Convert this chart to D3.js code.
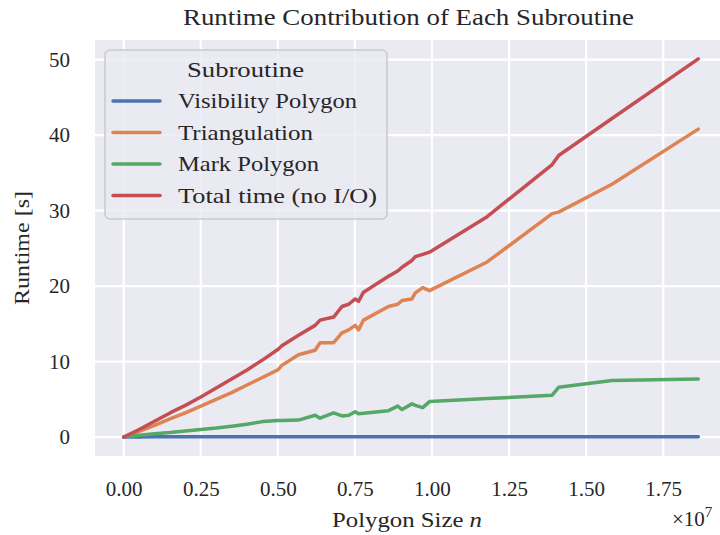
<!DOCTYPE html>
<html>
<head>
<meta charset="utf-8">
<script src="https://cdn.jsdelivr.net/npm/d3@7"></script>
<style>
  body { margin: 0; background: #fff; }
  svg text { font-family: "Liberation Serif", "DejaVu Serif", serif; fill: #262626; }
</style>
</head>
<body>
<svg id="chart" width="720" height="535"></svg>
<script>
// polygon size n, in units of 1e7
var sizes = [0, 0.05, 0.1, 0.15, 0.2, 0.25, 0.3, 0.35, 0.4, 0.45, 0.5, 0.513, 0.567, 0.621, 0.637,
    0.681, 0.708, 0.73, 0.751, 0.762, 0.778, 0.859, 0.889, 0.903, 0.935, 0.946, 0.97, 0.992,
    1.179, 1.39, 1.411, 1.584, 1.864];

var visibility = [0, 0.02, 0.03, 0.03, 0.03, 0.03, 0.03, 0.03, 0.03, 0.03, 0.03, 0.03, 0.03, 0.03, 0.03,
    0.03, 0.03, 0.03, 0.03, 0.03, 0.03, 0.03, 0.03, 0.03, 0.03, 0.03, 0.03, 0.03,
    0.03, 0.03, 0.03, 0.03, 0.03];

var triangulation = [0, 0.75, 1.55, 2.4, 3.2, 4.1, 5.0, 5.9, 6.9, 7.9, 8.9, 9.5, 10.9, 11.5, 12.5,
    12.5, 13.8, 14.2, 14.8, 14.2, 15.5, 17.3, 17.6, 18.1, 18.3, 19.1, 19.8, 19.4,
    23.2, 29.6, 29.8, 33.5, 40.8];

var markPolygon = [0, 0.25, 0.45, 0.6, 0.8, 1.0, 1.2, 1.45, 1.7, 2.05, 2.2, 2.2, 2.25, 2.9, 2.5,
    3.2, 2.8, 2.9, 3.35, 3.1, 3.15, 3.5, 4.1, 3.65, 4.4, 4.2, 3.9, 4.7,
    5.1, 5.55, 6.6, 7.5, 7.7];

var totalTime = [0, 1.0, 2.1, 3.2, 4.2, 5.3, 6.5, 7.7, 8.9, 10.2, 11.6, 12.1, 13.5, 14.8, 15.5,
    15.9, 17.3, 17.6, 18.3, 18.0, 19.2, 21.3, 22.0, 22.5, 23.4, 23.9, 24.2, 24.5,
    29.2, 36.1, 37.3, 42.2, 50.1];

var seriesNames = ['Visibility Polygon', 'Triangulation', 'Mark Polygon', 'Total time (no I/O)'];
var seriesColors = ['#4C72B0', '#DD8452', '#55A868', '#C44E52'];
var xTicks = [0, 0.25, 0.5, 0.75, 1.0, 1.25, 1.5, 1.75];
var yTicks = [0, 10, 20, 30, 40, 50];

(function () {
    var svg = d3.select('#chart');

    // plot box (right side runs past the page edge like the original)
    var plotLeft = 95, plotTop = 40, plotW = 632, plotH = 416;

    var xMax = d3.max(sizes);
    var xPad = xMax * 0.05;
    var x = d3.scaleLinear().domain([-xPad, xMax + xPad]).range([plotLeft, plotLeft + plotW]);

    var yMax = d3.max(totalTime);
    var yPad = yMax * 0.05;
    var y = d3.scaleLinear().domain([-yPad, yMax + yPad]).range([plotTop + plotH, plotTop]);

    // background
    svg.append('rect')
        .attr('x', plotLeft).attr('y', plotTop)
        .attr('width', plotW).attr('height', plotH)
        .attr('fill', '#EAEAF2');

    svg.append('clipPath').attr('id', 'clip')
        .append('rect')
        .attr('x', plotLeft).attr('y', plotTop)
        .attr('width', plotW).attr('height', plotH);

    // grid lines
    var grid = svg.append('g').attr('clip-path', 'url(#clip)');
    grid.selectAll('.gx').data(xTicks).enter().append('line')
        .attr('x1', d => x(d)).attr('x2', d => x(d))
        .attr('y1', plotTop).attr('y2', plotTop + plotH)
        .attr('stroke', '#fff').attr('stroke-width', 2.2);
    grid.selectAll('.gy').data(yTicks).enter().append('line')
        .attr('x1', plotLeft).attr('x2', plotLeft + plotW)
        .attr('y1', d => y(d)).attr('y2', d => y(d))
        .attr('stroke', '#fff').attr('stroke-width', 2.2);

    // axes, tick labels only (seaborn darkgrid)
    var xAxis = svg.append('g')
        .attr('transform', 'translate(0,' + (plotTop + plotH) + ')')
        .call(d3.axisBottom(x).tickValues(xTicks).tickFormat(d3.format('.2f')).tickSize(0).tickPadding(25));
    var yAxis = svg.append('g')
        .attr('transform', 'translate(' + plotLeft + ',0)')
        .call(d3.axisLeft(y).tickValues(yTicks).tickSize(0).tickPadding(25));
    [xAxis, yAxis].forEach(function (a) {
        a.select('.domain').remove();
        a.selectAll('text').attr('font-size', 21).attr('fill', '#262626');
    });

    // lines
    var allSeries = [visibility, triangulation, markPolygon, totalTime];
    var line = d3.line()
        .x((d, i) => x(sizes[i]))
        .y(d => y(d));

    var lines = svg.append('g').attr('clip-path', 'url(#clip)');
    allSeries.forEach(function (vals, k) {
        lines.append('path')
            .datum(vals)
            .attr('d', line)
            .attr('fill', 'none')
            .attr('stroke', seriesColors[k])
            .attr('stroke-width', 3.5)
            .attr('stroke-linejoin', 'round')
            .attr('stroke-linecap', 'round');
    });

    // legend
    var lg = svg.append('g');
    lg.append('rect')
        .attr('x', 105).attr('y', 50)
        .attr('width', 282).attr('height', 169)
        .attr('rx', 5)
        .attr('fill', '#EAEAF2').attr('fill-opacity', 0.8)
        .attr('stroke', '#CCCCCC').attr('stroke-width', 1.6);
    lg.append('text')
        .attr('x', 187).attr('y', 77)
        .attr('font-size', 21)
        .attr('textLength', 117).attr('lengthAdjust', 'spacingAndGlyphs')
        .text('Subroutine');
    var legendWidths = [179, 135, 141, 199];
    seriesNames.forEach(function (name, k) {
        var yy = 101 + k * 31.5;
        lg.append('line')
            .attr('x1', 113).attr('x2', 160)
            .attr('y1', yy).attr('y2', yy)
            .attr('stroke', seriesColors[k]).attr('stroke-width', 3.5)
            .attr('stroke-linecap', 'round');
        lg.append('text')
            .attr('x', 178).attr('y', yy + 7)
            .attr('font-size', 21)
            .attr('textLength', legendWidths[k]).attr('lengthAdjust', 'spacingAndGlyphs')
            .text(name);
    });

    // title and axis labels
    svg.append('text')
        .attr('x', 183).attr('y', 25)
        .attr('font-size', 23)
        .attr('textLength', 451).attr('lengthAdjust', 'spacingAndGlyphs')
        .text('Runtime Contribution of Each Subroutine');

    var xl = svg.append('text')
        .attr('x', 332).attr('y', 527)
        .attr('font-size', 22)
        .attr('textLength', 150).attr('lengthAdjust', 'spacingAndGlyphs');
    xl.append('tspan').text('Polygon Size ');
    xl.append('tspan').attr('font-style', 'italic').text('n');

    svg.append('text')
        .attr('transform', 'translate(29,' + (plotTop + plotH / 2) + ') rotate(-90)')
        .attr('text-anchor', 'middle')
        .attr('font-size', 22)
        .attr('textLength', 114).attr('lengthAdjust', 'spacingAndGlyphs')
        .text('Runtime [s]');

    var off = svg.append('text')
        .attr('x', 672).attr('y', 526)
        .attr('font-size', 21);
    off.append('tspan').text('\u00d710');
    off.append('tspan').attr('dy', -9).attr('font-size', 15).text('7');
})();
</script>
</body>
</html>
